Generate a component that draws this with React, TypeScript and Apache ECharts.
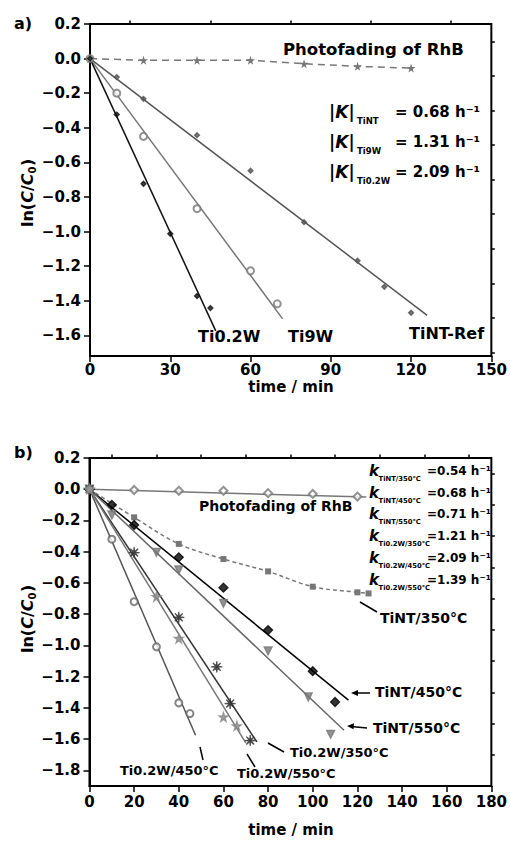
import React, { useEffect, useRef } from "react";
import * as echarts from "echarts";

// ---------- Panel a data ----------
const aXMajor = [0, 30, 60, 90, 120, 150];
const aXMinor = [15, 45, 75, 105, 135];
const aYMajor = [0.2, 0, -0.2, -0.4, -0.6, -0.8, -1.0, -1.2, -1.4, -1.6];
const aYMinor = [0.1, -0.1, -0.3, -0.5, -0.7, -0.9, -1.1, -1.3, -1.5, -1.7];

const aPhotoPts = [[0, 0], [20, -0.01], [40, -0.01], [60, -0.01], [80, -0.03], [100, -0.045], [120, -0.055]];
const aTiNTPts = [[0, 0], [10, -0.107], [20, -0.233], [40, -0.443], [60, -0.648], [80, -0.946], [100, -1.169], [110, -1.32], [120, -1.47]];
const aTiNTFit = [[0, 0], [126, -1.485]];
const aTi9WPts = [[0, 0], [10, -0.2], [20, -0.45], [40, -0.868], [60, -1.227], [70, -1.418]];
const aTi9WFit = [[0, 0], [72, -1.505]];
const aTi02WPts = [[0, 0], [10, -0.324], [20, -0.724], [30, -1.013], [40, -1.373], [45, -1.443]];
const aTi02WFit = [[0, 0], [47, -1.575]];

// ---------- Panel b data ----------
const bXMajor = [0, 20, 40, 60, 80, 100, 120, 140, 160, 180];
const bXMinor = [10, 30, 50, 70, 90, 110, 130, 150, 170];
const bYMajor = [0.2, 0, -0.2, -0.4, -0.6, -0.8, -1.0, -1.2, -1.4, -1.6, -1.8];
const bYMinor = [0.1, -0.1, -0.3, -0.5, -0.7, -0.9, -1.1, -1.3, -1.5, -1.7];

const bPhotoPts = [[0, 0], [20, -0.005], [40, -0.01], [60, -0.01], [80, -0.025], [100, -0.03], [120, -0.047]];
const bPhotoFit = [[0, 0], [124, -0.05]];
const b350Pts = [[0, 0], [20, -0.18], [40, -0.35], [60, -0.447], [80, -0.526], [100, -0.624], [120, -0.66], [125, -0.667]];
const b450Pts = [[0, 0], [10, -0.1], [20, -0.229], [40, -0.436], [60, -0.63], [80, -0.902], [100, -1.165], [110, -1.362]];
const b450Fit = [[0, 0], [116, -1.35]];
const b550Pts = [[0, 0], [10, -0.165], [30, -0.404], [40, -0.517], [60, -0.731], [80, -1.035], [98, -1.33], [108, -1.569]];
const b550Fit = [[0, 0], [114, -1.543]];
const bW350Pts = [[0, 0], [20, -0.406], [40, -0.82], [57, -1.137], [63, -1.372], [72, -1.609]];
const bW350Fit = [[0, 0], [75, -1.618]];
const bW450Pts = [[0, 0], [10, -0.32], [20, -0.72], [30, -1.009], [40, -1.368], [45, -1.436]];
const bW450Fit = [[0, 0], [47.5, -1.575]];
const bW550Pts = [[0, 0], [30, -0.688], [40, -0.955], [60, -1.458], [66, -1.515]];
const bW550Fit = [[0, 0], [70, -1.624]];

const aRates = [
  { sub: "TiNT", val: "= 0.68 h⁻¹" },
  { sub: "Ti9W", val: "= 1.31 h⁻¹" },
  { sub: "Ti0.2W", val: "= 2.09 h⁻¹" },
];
const bRates = [
  { sub: "TiNT/350°C", val: "=0.54 h⁻¹" },
  { sub: "TiNT/450°C", val: "=0.68 h⁻¹" },
  { sub: "TiNT/550°C", val: "=0.71 h⁻¹" },
  { sub: "Ti0.2W/350°C", val: "=1.21 h⁻¹" },
  { sub: "Ti0.2W/450°C", val: "=2.09 h⁻¹" },
  { sub: "Ti0.2W/550°C", val: "=1.39 h⁻¹" },
];

const FONT = '"DejaVu Sans", "Liberation Sans", sans-serif';
const STAR = "path://M50,0 L61,35 L98,35 L68,57 L79,91 L50,70 L21,91 L32,57 L2,35 L39,35 Z";

function asteriskPath(): string {
  const pts: string[] = [];
  for (let i = 0; i < 16; i++) {
    const r = i % 2 === 0 ? 50 : 9;
    const a = (i * Math.PI) / 8 - Math.PI / 2;
    pts.push(`${(50 + r * Math.cos(a)).toFixed(2)},${(50 + r * Math.sin(a)).toFixed(2)}`);
  }
  return "path://M" + pts.join(" L") + " Z";
}

const fmt = (v: number) => {
  const r = Math.round(v * 10) / 10;
  if (Math.abs(r) < 1e-9) return "0.0";
  return (r < 0 ? "−" : "") + Math.abs(r).toFixed(1);
};

function xAxes(grid: number, max: number, major: number[], minor: number[], margin: number) {
  return [
    {
      type: "value", gridIndex: grid, min: 0, max,
      axisLine: { show: true, onZero: false, lineStyle: { color: "#000", width: 2 } },
      axisTick: { show: true, inside: false, length: 6, customValues: major, lineStyle: { color: "#000", width: 1.5 } },
      axisLabel: { show: true, customValues: major, margin, color: "#000", fontFamily: FONT, fontWeight: "bold", fontSize: 15, formatter: (v: number) => String(Math.round(v)) },
      splitLine: { show: false },
    },
    {
      type: "value", gridIndex: grid, min: 0, max,
      axisLine: { show: false, onZero: false },
      axisTick: { show: true, inside: false, length: 3.5, customValues: minor, lineStyle: { color: "#000", width: 1.5 } },
      axisLabel: { show: false },
      splitLine: { show: false },
    },
  ];
}
function yAxes(grid: number, min: number, major: number[], minor: number[]) {
  return [
    {
      type: "value", gridIndex: grid, min, max: 0.2,
      axisLine: { show: true, onZero: false, lineStyle: { color: "#000", width: 2 } },
      axisTick: { show: true, inside: false, length: 6, customValues: major, lineStyle: { color: "#000", width: 1.5 } },
      axisLabel: { show: true, customValues: major, margin: 9, color: "#000", fontFamily: FONT, fontWeight: "bold", fontSize: 15, formatter: fmt },
      splitLine: { show: false },
    },
    {
      type: "value", gridIndex: grid, min, max: 0.2,
      axisLine: { show: false, onZero: false },
      axisTick: { show: true, inside: false, length: 3.5, customValues: minor, lineStyle: { color: "#000", width: 1.5 } },
      axisLabel: { show: false },
      splitLine: { show: false },
    },
  ];
}

function fit(data: number[][], xi: number, color: string, width = 1.5, type = "solid") {
  return {
    type: "line", data, xAxisIndex: xi, yAxisIndex: xi, symbol: "none", z: 2,
    lineStyle: { color, width, type }, silent: true,
  };
}
function pts(data: number[][], xi: number, symbol: string, size: number, color: string, opts: any = {}) {
  return {
    type: "scatter", data, xAxisIndex: xi, yAxisIndex: xi, symbol, symbolSize: size, z: 3,
    itemStyle: { color, borderColor: color, borderWidth: 1.3 }, ...opts,
  };
}

function txt(x: number, y: number, text: string, size: number, extra: any = {}) {
  return {
    type: "text", x, y, z: 10,
    style: { text, fill: "#000", font: `bold ${size}px ${FONT}`, verticalAlign: "middle", align: "left", ...extra },
  };
}
function seg(x1: number, y1: number, x2: number, y2: number) {
  return { type: "line", z: 10, shape: { x1, y1, x2, y2 }, style: { stroke: "#000", lineWidth: 1.5 } };
}
function head(points: number[][]) {
  return { type: "polygon", z: 10, shape: { points }, style: { fill: "#000" } };
}
function yTitle(x: number, y: number) {
  return {
    type: "group", x, y, rotation: Math.PI / 2, z: 10,
    children: [
      {
        type: "text", x: -35, y: 0,
        style: {
          text: "{b|ln(}{i|C}{b|/}{i|C}",
          verticalAlign: "middle", align: "left",
          rich: {
            b: { fontFamily: FONT, fontWeight: "bold", fontSize: 16, fill: "#000" },
            i: { fontFamily: FONT, fontWeight: "bold", fontStyle: "italic", fontSize: 16, fill: "#000" },
          },
        },
      },
      txt(18.5, 5, "0", 10),
      txt(26, 0, ")", 16),
    ],
  };
}

export default function App() {
  const ref = useRef<HTMLDivElement>(null);
  useEffect(() => {
    if (!ref.current) return;
    const chart = echarts.init(ref.current, undefined, { renderer: "svg" });
    const AST = asteriskPath();

    const graphics: any[] = [
      txt(14, 23, "a)", 16),
      txt(14, 452, "b)", 16),
      yTitle(27, 192),
      yTitle(27, 618),
      txt(291, 387, "time / min", 15, { align: "center" }),
      txt(291, 830, "time / min", 15, { align: "center" }),
      // panel a labels
      txt(283, 49, "Photofading of RhB", 16.5),
      txt(198, 336, "Ti0.2W", 16),
      txt(288, 336, "Ti9W", 16),
      txt(409, 333, "TiNT-Ref", 16),
      // panel b labels
      txt(199, 506, "Photofading of RhB", 14),
      txt(380, 618, "TiNT/350°C", 14),
      seg(377, 612, 360, 602),
      txt(375, 692, "TiNT/450°C", 14),
      seg(370, 693, 355, 693),
      head([[351, 693], [358, 690], [358, 696]]),
      txt(373, 728, "TiNT/550°C", 14),
      seg(367, 728, 351, 726.5),
      head([[347, 726], [354, 723.3], [353.5, 729.3]]),
      txt(290, 752, "Ti0.2W/350°C", 13),
      seg(284, 752, 268, 743),
      txt(237, 773, "Ti0.2W/550°C", 13),
      seg(255, 767, 247, 754),
      txt(120, 770, "Ti0.2W/450°C", 13),
      seg(203, 760, 200, 747),
    ];
    aRates.forEach((r, i) => {
      const y = 112 + i * 30;
      graphics.push({
        type: "text", x: 329, y, z: 10,
        style: {
          text: "{b||}{i|K}{b||}", verticalAlign: "middle", align: "left",
          rich: {
            b: { fontFamily: FONT, fontWeight: "bold", fontSize: 17, fill: "#000" },
            i: { fontFamily: FONT, fontWeight: "bold", fontStyle: "italic", fontSize: 17, fill: "#000" },
          },
        },
      });
      graphics.push(txt(357, y + 9, r.sub, 8.5));
      graphics.push(txt(395, y, r.val, 15));
    });
    bRates.forEach((r, i) => {
      const y = 471 + i * 21.7;
      graphics.push(txt(369, y, "k", 15, { font: `italic bold 15px ${FONT}` }));
      graphics.push(txt(378.5, y + 8, r.sub, 6.8));
      graphics.push(txt(427, y, r.val, 12));
    });

    chart.setOption({
      animation: false,
      backgroundColor: "#fff",
      grid: [
        { left: 90, top: 24, width: 403, height: 332, show: true, borderColor: "#000", borderWidth: 2, backgroundColor: "transparent" },
        { left: 89.5, top: 458, width: 403.5, height: 328, show: true, borderColor: "#000", borderWidth: 2, backgroundColor: "transparent" },
      ],
      xAxis: [...xAxes(0, 150, aXMajor, aXMinor, 6), ...xAxes(1, 180, bXMajor, bXMinor, 8)],
      yAxis: [...yAxes(0, -1.72, aYMajor, aYMinor), ...yAxes(1, -1.9, bYMajor, bYMinor)],
      series: [
        // panel a
        {
          type: "line", data: aPhotoPts, xAxisIndex: 0, yAxisIndex: 0, symbol: STAR, symbolSize: 9, z: 3,
          lineStyle: { color: "#777", width: 1.5, type: [7, 5] }, itemStyle: { color: "#777" },
        },
        fit(aTiNTFit, 0, "#555"),
        pts(aTiNTPts, 0, "diamond", 5, "#555"),
        fit(aTi9WFit, 0, "#777"),
        pts(aTi9WPts, 0, "emptyCircle", 7, "#777"),
        fit(aTi02WFit, 0, "#111"),
        pts(aTi02WPts, 0, "diamond", 5, "#111"),
        // panel b
        fit(bPhotoFit, 2, "#777"),
        pts(bPhotoPts, 2, "emptyDiamond", 8, "#777"),
        {
          type: "line", data: b350Pts, xAxisIndex: 2, yAxisIndex: 2, symbol: "rect", symbolSize: 6, smooth: 0.35, z: 3,
          lineStyle: { color: "#777", width: 1.5, type: [4, 3] }, itemStyle: { color: "#777" },
        },
        fit(b450Fit, 2, "#000"),
        pts(b450Pts, 2, "diamond", 9, "#000"),
        fit(b550Fit, 2, "#666"),
        pts(b550Pts, 2, "triangle", 8, "#777", { symbolRotate: 180 }),
        fit(bW350Fit, 2, "#333"),
        pts(bW350Pts, 2, AST, 11, "#333"),
        fit(bW450Fit, 2, "#555"),
        pts(bW450Pts, 2, "emptyCircle", 7, "#666"),
        fit(bW550Fit, 2, "#777"),
        pts(bW550Pts, 2, STAR, 9, "#888"),
      ],
      graphic: graphics,
    });
    return () => chart.dispose();
  }, []);
  return (
    <div
      ref={ref}
      style={{ position: "fixed", left: 0, top: 0, width: 510, height: 841, background: "#fff" }}
    />
  );
}
